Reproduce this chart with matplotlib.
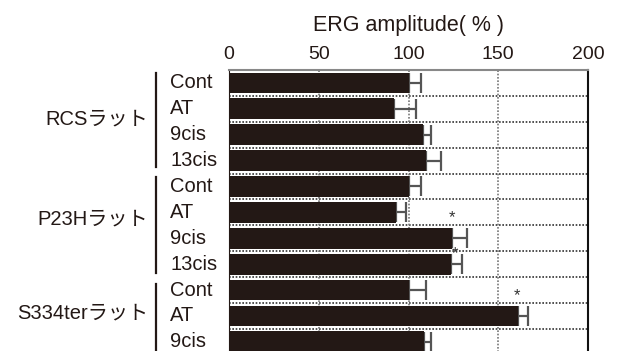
import matplotlib
matplotlib.use('Agg')
import matplotlib.pyplot as plt
import matplotlib.transforms as mtransforms

plt.rcParams['font.family'] = ['Liberation Sans', 'Noto Sans CJK JP', 'DejaVu Sans']

# data
items = ['Cont', 'AT', '9cis', '13cis',
         'Cont', 'AT', '9cis', '13cis',
         'Cont', 'AT', '9cis']
values = [100, 92, 108, 110,
          100, 93, 124.5, 123.5,
          100, 161, 108.5]
errors = [7, 12, 4.5, 8,
          7, 5.5, 8, 6.5,
          9.5, 5.5, 4]
groups = ['RCSラット', 'P23Hラット', 'S334terラット']
group_label_rows = [1.38, 5.26, 8.9]
group_spans = [(-0.38, 3.26), (3.64, 7.33), (7.77, 11.0)]
star_x = [124.5, 126, 160.3]
star_rows = [5.22, 6.59, 8.22]
xticks = [0, 50, 100, 150, 200]

bar_color = '#231815'

fig = plt.figure(figsize=(6.17, 3.51), dpi=100)
ax = fig.add_axes([229 / 617, -0.0108, 359 / 617, 0.8114])

y = list(range(len(values)))
ax.barh(y, values, height=0.8, color=bar_color, zorder=3)
ax.errorbar(values, y, xerr=[[0] * len(errors), errors], fmt='none',
            ecolor='#555555', elinewidth=1.6, capsize=7.5, capthick=1.6,
            zorder=2)

ax.set_xlim(0, 200)
ax.set_ylim(len(values) - 0.5, -0.5)

# dotted grid lines
for b in range(1, len(values)):
    ax.axhline(b - 0.5, color='#333333', lw=1.2, ls=(0, (1, 1)), zorder=1)
for v in [50, 100, 150]:
    ax.axvline(v, color='#777777', lw=1.2, ls=(0, (1, 1)), zorder=1)

ax.xaxis.tick_top()
ax.set_xticks(xticks)
ax.tick_params(axis='x', length=0, pad=5, labelsize=14, labelcolor='#231815')
ax.set_yticks([])
ax.set_xlabel('ERG amplitude( % )', fontsize=15.5, labelpad=11, color='#231815')
ax.xaxis.set_label_position('top')

ax.spines['top'].set_color('#888888')
ax.spines['top'].set_linewidth(1.5)
ax.spines['right'].set_color('#111111')
ax.spines['right'].set_linewidth(1.5)
ax.spines['left'].set_color(bar_color)
ax.spines['bottom'].set_visible(False)

trans = mtransforms.blended_transform_factory(fig.transFigure, ax.transData)
for i, lab in enumerate(items):
    ax.text(170 / 617, i, lab, transform=trans, ha='left', va='center',
            fontsize=14.5, color='#231815', clip_on=False)
for g, r in zip(groups, group_label_rows):
    ax.text(148 / 617, r, g, transform=trans, ha='right', va='center',
            fontsize=14.5, color='#231815', clip_on=False)
for y0, y1 in group_spans:
    ax.plot([156 / 617, 156 / 617], [y0, y1], transform=trans,
            color='#231815', lw=1.6, clip_on=False)

for sx, sr in zip(star_x, star_rows):
    ax.text(sx, sr, '*', ha='center', va='center', fontsize=12,
            color='#333333', zorder=4)

fig.savefig('out.png', dpi=100)
